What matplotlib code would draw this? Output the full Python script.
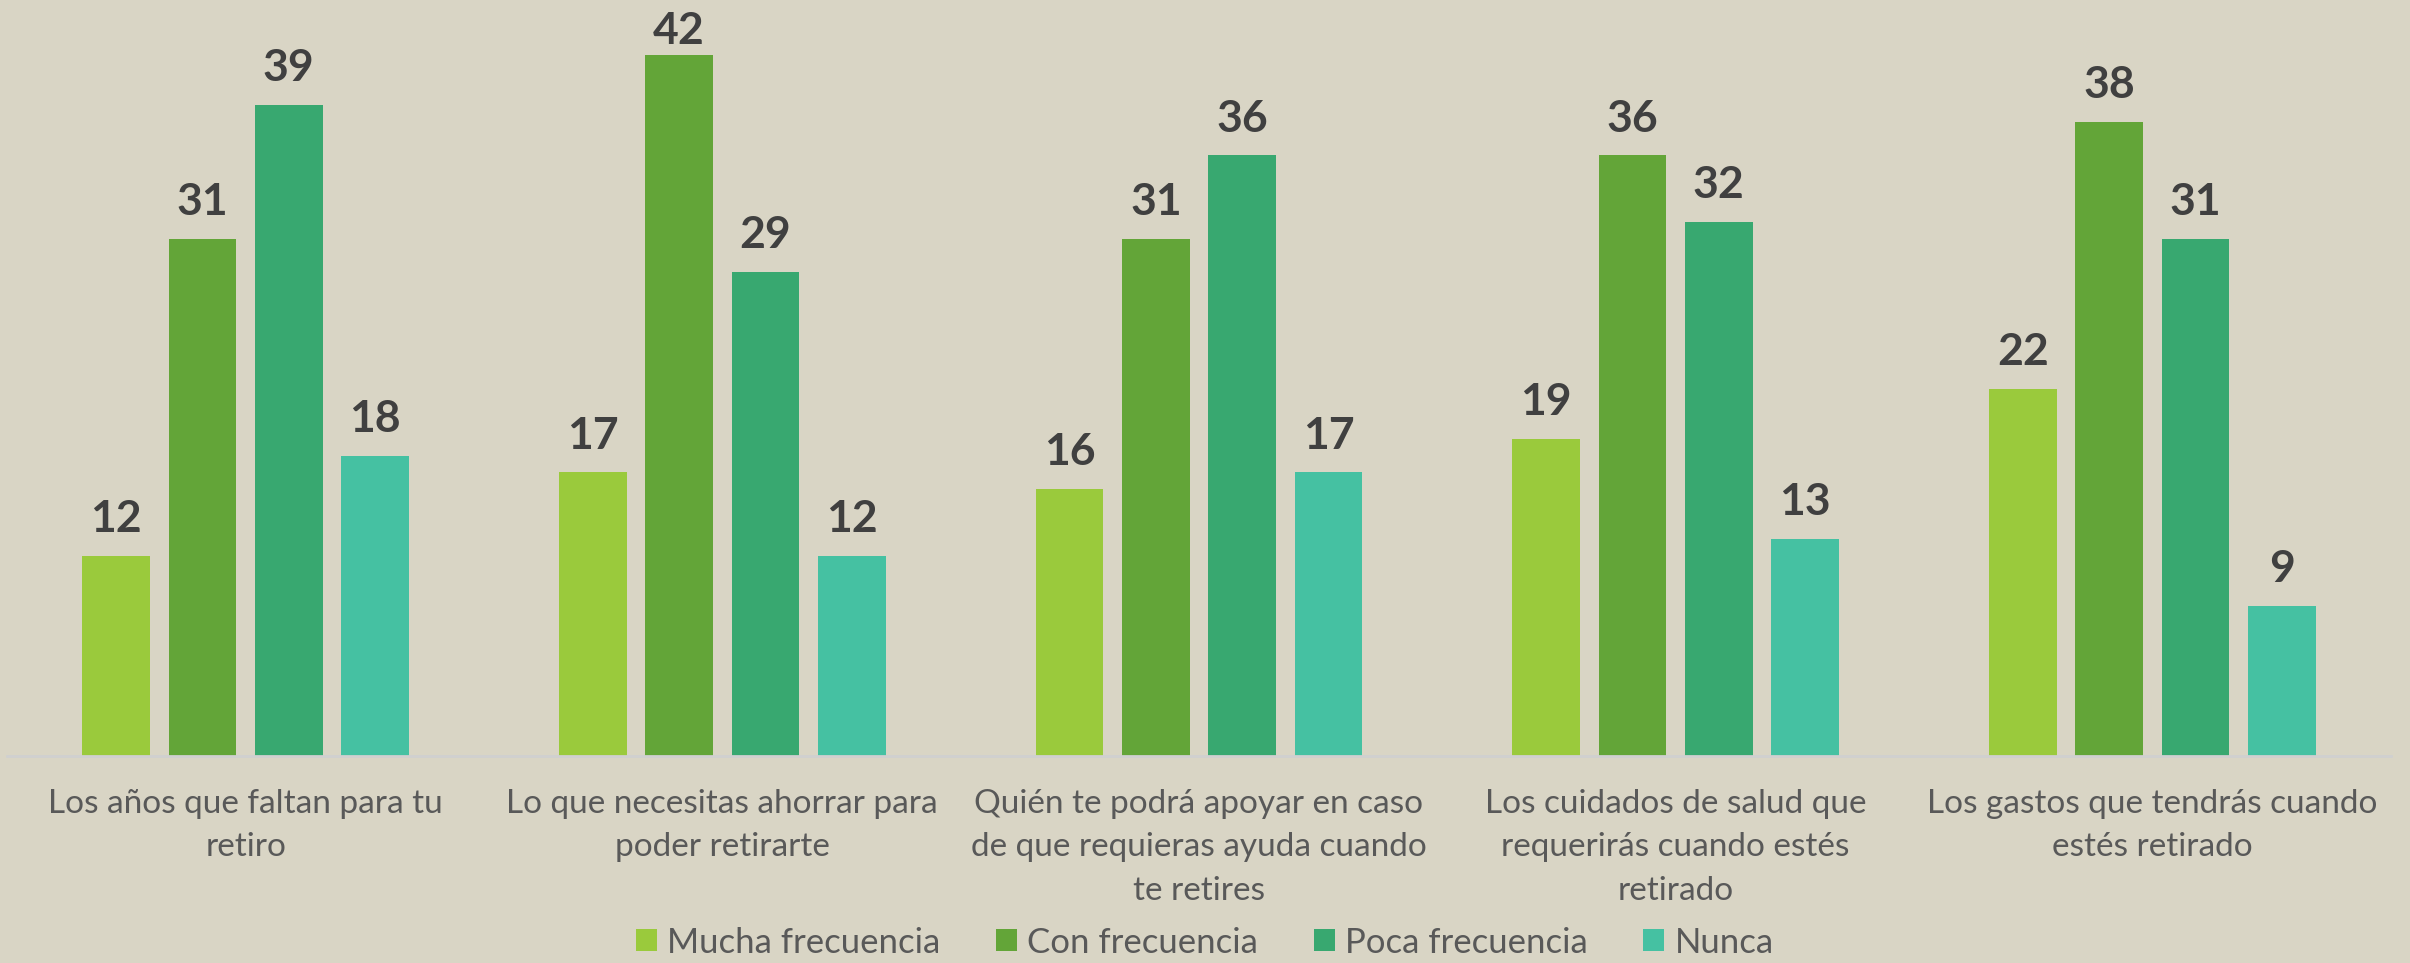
import matplotlib
matplotlib.use("Agg")
import matplotlib.pyplot as plt
import numpy as np
from matplotlib.patches import Patch

categories = [
    "Los años que faltan para tu\nretiro",
    "Lo que necesitas ahorrar para\npoder retirarte",
    "Quién te podrá apoyar en caso\nde que requieras ayuda cuando\nte retires",
    "Los cuidados de salud que\nrequerirás cuando estés\nretirado",
    "Los gastos que tendrás cuando\nestés retirado",
]
series_names = ["Mucha frecuencia", "Con frecuencia", "Poca frecuencia", "Nunca"]
mucha = [12, 17, 16, 19, 22]
con = [31, 42, 31, 36, 38]
poca = [39, 29, 36, 32, 31]
nunca = [18, 12, 17, 13, 9]
series = [mucha, con, poca, nunca]
colors = ["#9ACA3C", "#63A538", "#38A870", "#45C1A2"]

BG = "#D9D5C5"
plt.rcParams["font.family"] = ["Lato", "DejaVu Sans"]

fig = plt.figure(figsize=(24.10, 9.63), dpi=100, facecolor=BG)
ax = fig.add_axes([0.003, 0.215, 0.989, 0.785])
ax.set_facecolor(BG)

YMAX = 45.3
x = np.arange(len(categories))
width = 0.142
step = 0.181
offsets = [-1.5 * step, -0.5 * step, 0.5 * step, 1.5 * step]
for vals, off, c in zip(series, offsets, colors):
    bars = ax.bar(x + off, vals, width, color=c, zorder=2)
    for b, v in zip(bars, vals):
        ypos = min(v + 1.0, YMAX - 3.05)
        ax.text(b.get_x() + b.get_width() / 2, ypos, str(v), ha="center", va="bottom",
                fontsize=32, fontweight="bold", color="#404040")

ax.set_xlim(-0.5, len(categories) - 0.5)
ax.set_ylim(0, YMAX)
ax.set_yticks([])
ax.set_xticks(x)
ax.set_xticklabels(categories, fontsize=24, color="#595959", linespacing=1.55)
ax.tick_params(axis="x", length=0, pad=24)
for s in ["top", "left", "right"]:
    ax.spines[s].set_visible(False)
ax.spines["bottom"].set_color("#D0D0D0")
ax.spines["bottom"].set_linewidth(2)

handles = [Patch(facecolor=c, label=n) for c, n in zip(colors, series_names)]
fig.legend(handles=handles, loc="lower center", ncol=4, frameon=False, fontsize=25,
           labelcolor="#595959", handlelength=0.6, handleheight=0.6, handletextpad=0.3,
           columnspacing=1.6, bbox_to_anchor=(0.5, -0.028))

fig.savefig("out.png", dpi=100, facecolor=BG)
